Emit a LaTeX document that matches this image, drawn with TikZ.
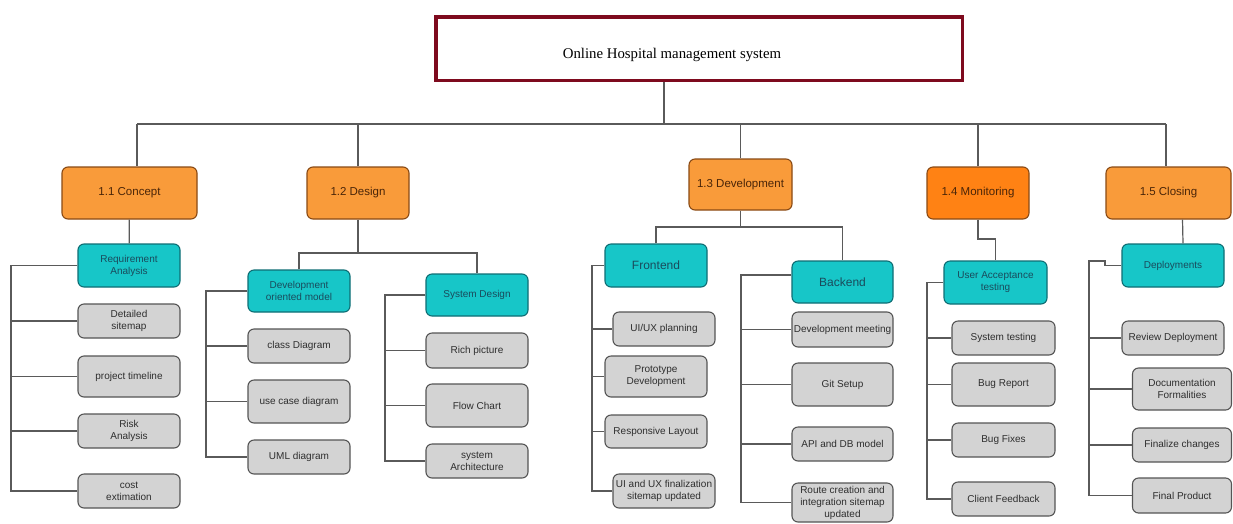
\documentclass[tikz,border=0pt]{standalone}
\usepackage{fontspec}
\setmainfont{Liberation Sans}
\newfontfamily\titlefont{Liberation Serif}

\definecolor{rootD}{HTML}{7E0A1E}
\definecolor{orangeF}{HTML}{F99B3A}
\definecolor{orangeM}{HTML}{FF8214}
\definecolor{orangeD}{HTML}{8A4A14}
\definecolor{orangeT}{HTML}{4A2508}
\definecolor{cyanF}{HTML}{17C6C8}
\definecolor{cyanD}{HTML}{0E6E74}
\definecolor{cyanT}{HTML}{1A4B5C}
\definecolor{greyF}{HTML}{D3D3D3}
\definecolor{greyD}{HTML}{555555}
\definecolor{greyT}{HTML}{2E2E2E}
\definecolor{lineC}{HTML}{5A5A5A}

\tikzset{
  box/.style={draw, rounded corners=6pt, line width=1.1pt, inner sep=1pt,
    align=center, font=\fontsize{10}{12}\selectfont},
  sz/.style 2 args={minimum width=#1pt, minimum height=#2pt},
  phase/.style={box, fill=orangeF, draw=orangeD, text=orangeT,
    font=\fontsize{11.5}{13}\selectfont},
  group/.style={box, fill=cyanF, draw=cyanD, text=cyanT},
  task/.style={box, fill=greyF, draw=greyD, text=greyT},
  link/.style={draw=lineC, line width=1.2pt},
}

\begin{document}
\begin{tikzpicture}[x=1pt, y=-1pt]
  \fill[white] (0,0) rectangle (1233,523);
  \useasboundingbox (0,0) rectangle (1233,523);

  % project root
  \node[draw=rootD, line width=3.5pt, sz={526.5}{63.5}] (root) at (699,48.5) {};
  \node[font=\titlefont\fontsize{14.8}{16}\selectfont, text=black] (title) at (672,55) {Online Hospital management system};

  % phases
  \node[phase, sz={135}{52}] (c1) at (129.5,193) {1.1 Concept};
  \node[phase, sz={102}{52}] (c2) at (358,193) {1.2 Design};
  \node[phase, sz={103}{51}] (c3) at (740.5,184.5) {1.3 Development};
  \node[phase, fill=orangeM, sz={102}{52}] (c4) at (978,193) {1.4 Monitoring};
  \node[phase, sz={125}{52}] (c5) at (1168.5,193) {1.5 Closing};

  % root to phases
  \coordinate (hub) at (664,124);
  \coordinate (busL) at (137,124);
  \coordinate (busR) at (1166,124);
  \draw[link] ([xshift=-35pt]root.south) -- (hub);
  \draw[link] (busL) -- (busR);
  \draw[link] (busL) -- (busL |- c1.north);
  \draw[link] (c2.north) -- (c2.north |- hub);
  \draw[link] (c3.north) -- (c3.north |- hub);
  \draw[link] (c4.north) -- (c4.north |- hub);
  \draw[link] (busR) -- (busR |- c5.north);

  % 1.1 Concept
  \node[group, sz={102}{43}] (req) at (129,265.5) {Requirement\\Analysis};
  \node[task, sz={102}{34}] (ds) at (129,321) {Detailed\\sitemap};
  \node[task, sz={102}{41}] (pt) at (129,376.5) {project timeline};
  \node[task, sz={102}{34}] (ra) at (129,431) {Risk\\Analysis};
  \node[task, sz={102}{34}] (ce) at (129,491) {cost\\extimation};
  \draw[link] (c1) -- (req);
  \coordinate (s1) at (11,0);
  \draw[link] (req.west) -- (req.west -| s1) |- (ce.west);
  \foreach \n in {ds,pt,ra} \draw[link] (\n.west) -- (\n.west -| s1);

  % 1.2 Design
  \node[group, sz={102}{42}] (dom) at (299,291) {Development\\oriented model};
  \node[group, sz={102}{42}] (sd) at (477,295) {System Design};
  \coordinate (j2) at (358,253);
  \draw[link] (c2.south) -- (j2);
  \draw[link] (dom.north) |- (j2) -| (sd.north);

  \node[task, sz={102}{34}] (cd) at (299,346) {class Diagram};
  \node[task, sz={102}{43}] (ucd) at (299,401.5) {use case diagram};
  \node[task, sz={102}{34}] (uml) at (299,457) {UML diagram};
  \coordinate (s2) at (206,0);
  \draw[link] (dom.west) -- (dom.west -| s2) |- (uml.west);
  \foreach \n in {cd,ucd} \draw[link] (\n.west) -- (\n.west -| s2);

  \node[task, sz={102}{35}] (rp) at (477,350.5) {Rich picture};
  \node[task, sz={102}{43}] (fc) at (477,405.5) {Flow Chart};
  \node[task, sz={102}{34}] (sa) at (477,461) {system\\Architecture};
  \coordinate (s3) at (385,0);
  \draw[link] (sd.west) -- (sd.west -| s3) |- (sa.west);
  \foreach \n in {rp,fc} \draw[link] (\n.west) -- (\n.west -| s3);

  % 1.3 Development
  \node[group, sz={102}{43}, font=\fontsize{12}{14}\selectfont] (fe) at (656,265.5) {Frontend};
  \node[group, sz={101}{42}, font=\fontsize{12}{14}\selectfont] (be) at (842.5,282) {Backend};
  \coordinate (j3) at (740.5,227);
  \draw[link] (c3.south) -- (j3);
  \draw[link] (fe.north) |- (j3) -| (be.north);

  \node[task, sz={102}{34}] (uxp) at (664,329) {UI/UX planning};
  \node[task, sz={102}{41}] (ptd) at (656,376.5) {Prototype\\Development};
  \node[task, sz={102}{33}] (rl) at (656,431.5) {Responsive Layout};
  \node[task, sz={102}{34}] (uxf) at (664,491) {UI and UX finalization\\sitemap updated};
  \coordinate (s4) at (592,0);
  \draw[link] (fe.west) -- (fe.west -| s4) |- (uxf.west);
  \foreach \n in {uxp,ptd,rl} \draw[link] (\n.west) -- (\n.west -| s4);

  \node[task, sz={101}{35}] (dm) at (842.5,329.5) {Development meeting};
  \node[task, sz={101}{43}] (gs) at (842.5,384.5) {Git Setup};
  \node[task, sz={101}{34}] (api) at (842.5,444) {API and DB model};
  \node[task, sz={101}{39}] (rc) at (842.5,502.5) {Route creation and\\integration sitemap\\updated};
  \coordinate (s5) at (741,0);
  \draw[link] ([yshift=7pt]be.west) -- ([yshift=7pt]be.west -| s5) |- (rc.west);
  \foreach \n in {dm,gs,api} \draw[link] (\n.west) -- (\n.west -| s5);

  % 1.4 Monitoring
  \node[group, sz={103}{43}] (uat) at (995.5,282.5) {User Acceptance\\testing};
  \coordinate (m1) at (995.5,239);
  \draw[link] (c4.south) |- (m1) -- (uat.north);

  \node[task, sz={103}{34}] (st) at (1003.5,338) {System testing};
  \node[task, sz={103}{43}] (bre) at (1003.5,384.5) {Bug Report};
  \node[task, sz={103}{34}] (bf) at (1003.5,440) {Bug Fixes};
  \node[task, sz={103}{34}] (cf) at (1003.5,499) {Client Feedback};
  \coordinate (s6) at (927,0);
  \draw[link] (uat.west) -- (uat.west -| s6) |- (cf.west);
  \foreach \n in {st,bre,bf} \draw[link] (\n.west) -- (\n.west -| s6);

  % 1.5 Closing
  \node[group, sz={102}{43}] (dep) at (1173,265.5) {Deployments};
  \draw[link] ([xshift=14pt]c5.south) -- ([xshift=10pt]dep.north);

  \node[task, sz={102}{34}] (rd) at (1173,338) {Review Deployment};
  \node[task, sz={99}{42}] (df) at (1182,389) {Documentation\\Formalities};
  \node[task, sz={99}{34}] (fch) at (1182,445) {Finalize changes};
  \node[task, sz={99}{35}] (fp) at (1182,495.5) {Final Product};
  \coordinate (jog) at (1105,261);
  \coordinate (s7) at (1089,261);
  \draw[link] (dep.west) -| (jog) -- (s7) |- (fp.west);
  \foreach \n in {rd,df,fch} \draw[link] (\n.west) -- (\n.west -| s7);
\end{tikzpicture}
\end{document}
